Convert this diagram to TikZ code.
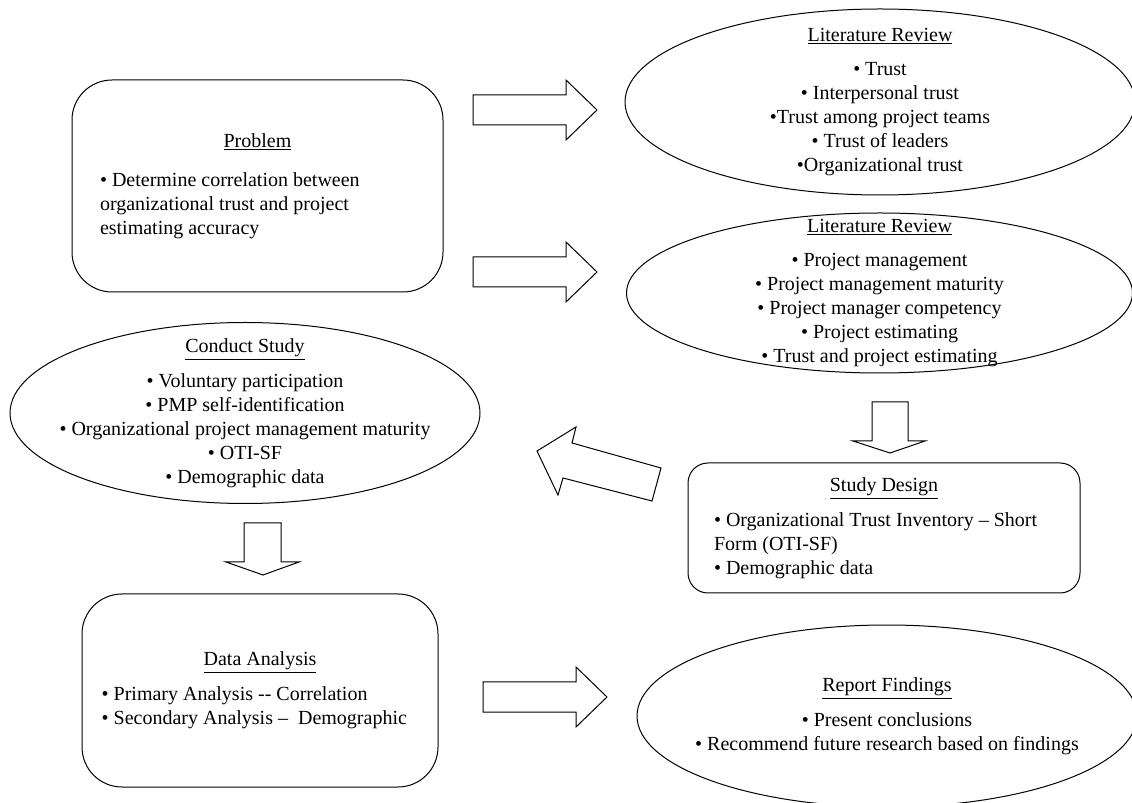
\documentclass[tikz,border=0pt]{standalone}
\usepackage{fontspec}
\setmainfont{Liberation Serif}
\usetikzlibrary{shapes.geometric}

\tikzset{
  stage/.style={draw, line width=0.6pt, font=\fontsize{12}{14.4}\selectfont},
  roundbox/.style={stage, rectangle, rounded corners=24pt, align=flush left},
  ovalbox/.style={stage, ellipse, inner sep=-80pt, align=center},
  blockarrow/.style={draw, line width=0.6pt, line join=miter, fill=white}
}

\begin{document}
\begin{tikzpicture}[x=0.6pt,y=-0.6pt]
  \useasboundingbox (0,0) rectangle (1132,803);
  % stages
  \node[roundbox, minimum width=222.6pt, minimum height=127.2pt, text width=189pt] (problem) at (257.5,186)
    {{\centering\underline{Problem}\par}\vspace{9pt}%
     • Determine correlation between organizational trust and project estimating accuracy};
  \node[ovalbox, minimum width=306pt, minimum height=111.6pt] (littrust) at (880,102)
    {\underline{Literature Review}\\[6.5pt]
     • Trust\\ • Interpersonal trust\\ •Trust among project teams\\ • Trust of leaders\\ •Organizational trust};
  \node[ovalbox, minimum width=303.6pt, minimum height=96pt] (litpm) at (879.5,293)
    {\underline{Literature Review}\\[6.5pt]
     • Project management\\ • Project management maturity\\ • Project manager competency\\
     • Project estimating\\ • Trust and project estimating};
  \node[ovalbox, minimum width=282pt, minimum height=108.6pt] (conduct) at (245,413)
    {\underline{Conduct Study}\\[6.5pt]
     • Voluntary participation\\ • PMP self-identification\\
     • Organizational project management maturity\\ • OTI-SF\\ • Demographic data};
  \node[roundbox, rounded corners=12pt, minimum width=235.2pt, minimum height=78pt, text width=204pt] (design) at (884,528)
    {{\centering\underline{Study Design}\par}\vspace{6.5pt}%
     • Organizational Trust Inventory – Short Form (OTI-SF)\\ • Demographic data};
  \node[roundbox, minimum width=213.6pt, minimum height=115.8pt, text width=190pt] (analysis) at (260,690.5)
    {{\centering\underline{Data Analysis}\par}\vspace{6.5pt}%
     • Primary Analysis -{}- Correlation\\ • Secondary Analysis –~ Demographic};
  \node[ovalbox, minimum width=300pt, minimum height=109.2pt] (report) at (887,716)
    {\underline{Report Findings}\\[6.5pt]
     • Present conclusions\\ • Recommend future research based on findings};
  % block arrows
  \draw[blockarrow] (473,95) -- (566,95) -- (566,80) -- (597,110) -- (566,140) -- (566,125) -- (473,125) -- cycle;
  \draw[blockarrow] (473,257) -- (566,257) -- (566,242) -- (597,272) -- (566,302) -- (566,287) -- (473,287) -- cycle;
  \draw[blockarrow] (872,402) -- (872,441) -- (853,441) -- (890,453) -- (925,441) -- (908,441) -- (908,402) -- cycle;
  \draw[blockarrow] (661,468) -- (572,443) -- (576,427) -- (537,451) -- (558,495) -- (563,478) -- (652,501) -- cycle;
  \draw[blockarrow] (244,523) -- (244,562) -- (226,562) -- (263,575) -- (299,562) -- (281,562) -- (281,523) -- cycle;
  \draw[blockarrow] (483,682) -- (576,682) -- (576,667) -- (607,697) -- (576,727) -- (576,712) -- (483,712) -- cycle;
\end{tikzpicture}
\end{document}
